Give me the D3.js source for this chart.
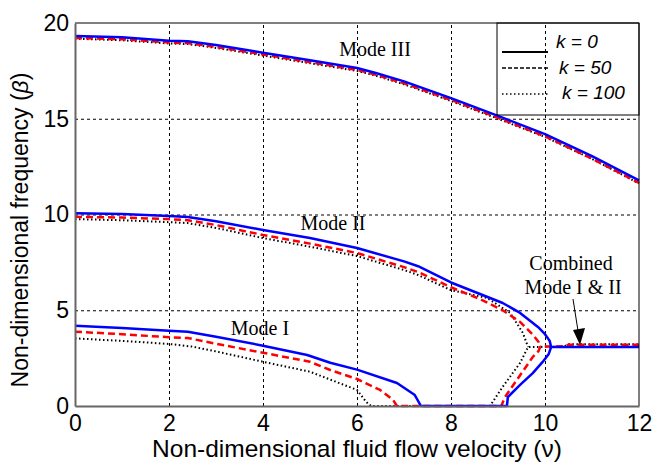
<!DOCTYPE html>
<html>
<head>
<meta charset="utf-8">
<script src="https://cdn.jsdelivr.net/npm/d3@7"></script>
<style>
  body { margin: 0; background: #fff; }
</style>
</head>
<body>
<svg id="chart"></svg>
<script>
// data: [v, beta] pairs
var xTicks = [0, 2, 4, 6, 8, 10, 12];
var yTicks = [0, 5, 10, 15, 20];

// Mode I branch, runs on through divergence (beta = 0) and the lower
// branch that joins Mode II, then the combined mode up to v = 12
var modeI_k0 = [[0, 4.19], [1, 4.07], [2, 3.93], [2.4, 3.88], [3, 3.62], [4, 3.15], [4.94, 2.66], [5.43, 2.26], [6, 1.9], [6.85, 1.2], [7.23, 0.57], [7.36, 0], [9.19, 0], [9.21, 0.47], [9.47, 1.1], [9.74, 1.72], [9.95, 2.3], [10.08, 2.72], [10.13, 3.08], [12, 3.08]];
var modeI_k50 = [[0, 3.88], [1, 3.75], [2, 3.59], [2.4, 3.55], [3, 3.25], [4, 2.78], [5, 2.31], [5.43, 1.88], [6, 1.41], [6.49, 0.84], [6.77, 0.31], [6.85, 0], [9.07, 0], [9.15, 0.47], [9.4, 1.36], [9.74, 2.56], [9.86, 2.86], [9.9, 3.1], [10.4, 3.12], [10.5, 3.2], [12, 3.2]];
var modeI_k100 = [[0, 3.53], [1, 3.4], [2, 3.24], [2.5, 3.1], [3, 2.85], [4, 2.31], [5, 1.79], [5.43, 1.38], [6, 0.84], [6.2, 0.2], [6.3, 0], [8.83, 0], [9.1, 1.0], [9.47, 2.25], [9.64, 3.08], [10.4, 3.1], [10.5, 3.22], [12, 3.22]];

var modeII_k0 = [[0, 10.06], [1, 10.03], [2, 9.92], [2.4, 9.87], [3, 9.65], [4, 9.19], [5, 8.77], [6, 8.25], [7, 7.55], [7.3, 7.3], [8, 6.45], [9.1, 5.38], [9.47, 4.86], [9.85, 4.13], [10.0, 3.75], [10.1, 3.4], [10.13, 3.08]];
var modeII_k50 = [[0, 9.88], [1, 9.84], [2, 9.76], [2.4, 9.7], [3, 9.45], [4, 8.93], [5, 8.48], [6, 7.99], [7, 7.25], [7.3, 7.0], [8, 6.2], [8.6, 5.6], [9.1, 5.0], [9.47, 4.39], [9.75, 3.7], [9.86, 3.36], [9.9, 3.1]];
var modeII_k100 = [[0, 9.76], [1, 9.7], [2, 9.6], [2.4, 9.55], [3, 9.3], [4, 8.77], [5, 8.32], [6, 7.83], [7, 7.1], [7.3, 6.84], [8, 6.05], [8.77, 5.64], [9.26, 4.86], [9.53, 3.81], [9.64, 3.08]];

var modeIII_k0 = [[0, 19.32], [1, 19.25], [2, 19.07], [2.4, 19.05], [3, 18.85], [4, 18.45], [5, 18.05], [6, 17.65], [6.4, 17.39], [7, 16.95], [8, 16.08], [9, 15.15], [10, 14.2], [11, 13.05], [12, 11.78]];
var modeIII_k50 = [[0, 19.22], [1, 19.15], [2, 18.98], [2.4, 18.95], [3, 18.75], [4, 18.36], [5, 17.95], [6, 17.55], [6.4, 17.3], [7, 16.85], [8, 15.98], [9, 15.05], [10, 14.08], [11, 12.92], [12, 11.65]];
var modeIII_k100 = [[0, 19.18], [1, 19.1], [2, 18.93], [2.4, 18.9], [3, 18.7], [4, 18.3], [5, 17.9], [6, 17.5], [6.4, 17.25], [7, 16.8], [8, 15.93], [9, 15.0], [10, 14.05], [11, 12.9], [12, 11.62]];

var legendLabels = ["k = 0", "k = 50", "k = 100"];

var W = 652, H = 462;
var padL = 75, padR = 639, padT = 23, padB = 406;

var svg = d3.select("#chart").attr("width", W).attr("height", H);

var x = d3.scaleLinear().domain([0, 12]).range([padL, padR]);
var y = d3.scaleLinear().domain([0, 20]).range([padB, padT]);

// grid
svg.append("g")
  .attr("class", "grid")
  .attr("transform", "translate(0," + padB + ")")
  .call(d3.axisBottom(x).tickValues(xTicks.slice(1, -1)).tickSize(-(padB - padT)).tickFormat(""));
svg.append("g")
  .attr("class", "grid")
  .attr("transform", "translate(" + padL + ",0)")
  .call(d3.axisLeft(y).tickValues(yTicks.slice(1, -1)).tickSize(-(padR - padL)).tickFormat(""));
svg.selectAll(".grid .domain").remove();
svg.selectAll(".grid line")
  .attr("stroke", "#000")
  .attr("stroke-width", 1)
  .attr("stroke-dasharray", "3,3");

// curves
var line = d3.line()
  .x(function (d) { return x(d[0]); })
  .y(function (d) { return y(d[1]); });

var styles = [
  { color: "#000", width: 2, dash: "1.5,2.5" },
  { color: "#ff0000", width: 2.5, dash: "7,4" },
  { color: "#0000ff", width: 2.5, dash: null }
];
var groups = [
  [modeI_k100, modeII_k100, modeIII_k100],
  [modeI_k50, modeII_k50, modeIII_k50],
  [modeI_k0, modeII_k0, modeIII_k0]
];

groups.forEach(function (set, i) {
  set.forEach(function (pts) {
    svg.append("path")
      .attr("d", line(pts))
      .attr("fill", "none")
      .attr("stroke", styles[i].color)
      .attr("stroke-width", styles[i].width)
      .attr("stroke-dasharray", styles[i].dash)
      .attr("stroke-linejoin", "round");
  });
});

// frame
svg.append("line").attr("x1", padL).attr("x2", padR).attr("y1", padT).attr("y2", padT)
  .attr("stroke", "#000").attr("stroke-width", 1);
svg.append("line").attr("x1", padR).attr("x2", padR).attr("y1", padT).attr("y2", padB)
  .attr("stroke", "#000").attr("stroke-width", 1);

var xAxis = svg.append("g")
  .attr("transform", "translate(0," + padB + ")")
  .call(d3.axisBottom(x).tickValues(xTicks).tickSize(0).tickPadding(9));
var yAxis = svg.append("g")
  .attr("transform", "translate(" + padL + ",0)")
  .call(d3.axisLeft(y).tickValues(yTicks).tickSize(0).tickPadding(6));

[xAxis, yAxis].forEach(function (a) {
  a.select(".domain").attr("stroke", "#666").attr("stroke-width", 2);
  a.selectAll("text")
    .attr("font-family", "Liberation Sans, Arial, sans-serif")
    .attr("font-size", "23px")
    .attr("fill", "#000");
});

// axis titles
svg.append("text")
  .attr("x", (padL + padR) / 2)
  .attr("y", 457)
  .attr("text-anchor", "middle")
  .attr("font-family", "Liberation Sans, Arial, sans-serif")
  .attr("font-size", "24.5px")
  .text("Non-dimensional fluid flow velocity (\u03bd)");

var yt = svg.append("text")
  .attr("transform", "translate(28," + 230 + ") rotate(-90)")
  .attr("text-anchor", "middle")
  .attr("font-family", "Liberation Sans, Arial, sans-serif")
  .attr("font-size", "23px");
yt.append("tspan").text("Non-dimensional frequency (");
yt.append("tspan").attr("font-style", "italic").text("\u03b2");
yt.append("tspan").text(")");

// mode labels
var serif = "Liberation Serif, Times New Roman, serif";
[["Mode III", 375, 56], ["Mode II", 333, 230], ["Mode I", 260, 335]].forEach(function (m) {
  svg.append("text")
    .attr("x", m[1]).attr("y", m[2])
    .attr("text-anchor", "middle")
    .attr("font-family", serif)
    .attr("font-size", "20px")
    .text(m[0]);
});
svg.append("text").attr("x", 571).attr("y", 270).attr("text-anchor", "middle")
  .attr("font-family", serif).attr("font-size", "20px").text("Combined");
svg.append("text").attr("x", 573).attr("y", 294).attr("text-anchor", "middle")
  .attr("font-family", serif).attr("font-size", "20px").text("Mode I & II");

// arrow
svg.append("line")
  .attr("x1", 573).attr("y1", 299).attr("x2", 578.5).attr("y2", 334)
  .attr("stroke", "#000").attr("stroke-width", 1);
svg.append("path")
  .attr("d", "M573,330 L585,328 L580,345 Z")
  .attr("fill", "#000");

// legend
var lg = svg.append("g");
lg.append("rect")
  .attr("x", 497).attr("y", padT).attr("width", padR - 497).attr("height", 115 - padT)
  .attr("fill", "none").attr("stroke", "#000").attr("stroke-width", 1);
var legendY = [52, 68, 94];
var legendStyle = [
  { dash: null, width: 2 },
  { dash: "4,2", width: 1.5 },
  { dash: "1.5,2.5", width: 1.5 }
];
legendLabels.forEach(function (lab, i) {
  lg.append("line")
    .attr("x1", 502).attr("x2", 548)
    .attr("y1", legendY[i]).attr("y2", legendY[i])
    .attr("stroke", "#000")
    .attr("stroke-width", legendStyle[i].width)
    .attr("stroke-dasharray", legendStyle[i].dash);
  lg.append("text")
    .attr("x", 556 + i * 3).attr("y", [48, 74, 99][i])
    .attr("font-family", "Liberation Sans, Arial, sans-serif")
    .attr("font-style", "italic")
    .attr("font-size", "19px")
    .text(lab);
});
</script>
</body>
</html>
